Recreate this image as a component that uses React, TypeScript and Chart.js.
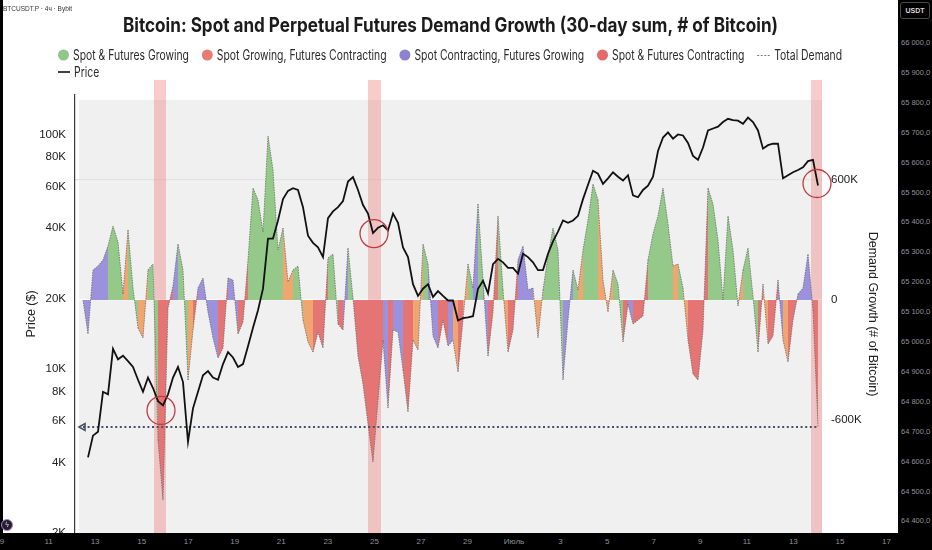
import React, { useEffect, useRef } from "react";
import { Chart, registerables } from "chart.js";

Chart.register(...registerables);

// ---------- DATA ----------
// Price (thousand USD), one sample per period on a shared index axis
const priceK: (number | null)[] = [
  null, 4.2, 5.2, 5.4, 8.0, 7.8, 12.2, 11.0, 11.4, 10.8,
  10.2, 9.0, 8.0, 9.2, 8.3, 7.3, 7.0, 7.8, 9.2, 10.2,
  8.8, 4.9, 6.8, 8.0, 9.4, 9.8, 9.2, 9.0, 10.5, 11.8,
  11.2, 10.2, 10.5, 12.5, 15.0, 17.8, 22, 36, 36, 43,
  53, 57.5, 59, 58, 49, 37, 34.5, 33, 30, 44,
  47, 49, 52, 63, 65.8, 58, 50, 46, 38, 40,
  41, 39, 46, 42, 33, 30, 23, 20.5, 22, 23,
  20.3, 21.5, 20.5, 19.6, 19.6, 16.1, 16.5, 16.6, 16.8, 22,
  23.8, 21, 28, 29.5, 28.5, 27, 27, 25.5, 31, 30,
  28.5, 26.4, 26.4, 31, 35, 38.5, 43, 42, 43, 45,
  53, 61, 70, 68, 61.6, 65, 69, 66, 63.6, 67,
  55, 54, 58, 60.5, 66, 85, 97, 102, 96, 100,
  99, 92, 81, 78, 88, 104, 106, 108, 113, 116.6,
  115, 114.5, 111, 118, 113, 104, 87, 90, 91.3, 91.3,
  65, 67, 69, 70.5, 72.5, 77, 78, 60.6,
];

// Demand growth (thousand BTC, 30-day sum)
const demandK: number[] = [
  0, -170, 150, 170, 200, 270, 370, 290, 30, 350,
  60, -140, -190, 150, 180, -700, -1000, -40, 70, 280,
  150, -400, -150, 60, 110, -60, -190, -290, -240, 110,
  100, -170, -110, 200, 560, 500, 340, 820, 650, 250,
  360, 90, 150, 170, -100, -210, -260, -160, -240, 210,
  230, -120, -150, 260, 10, -280, -420, -620, -810, -500,
  -200, -540, -150, -160, -350, -560, -200, -250, 280, 180,
  -180, -240, -100, -230, -200, -360, -100, 180, 60, 480,
  100, -280, -60, 420, 50, -260, -150, 200, 270, 50,
  60, -190, 50, 220, 360, 250, -400, -100, 150, 50,
  250, 400, 580, 500, 100, -60, 150, 80, -210, -20,
  -120, -100, -80, 200, 330, 420, 560, 380, 170, 180,
  60, -200, -370, -400, -150, 560, 480, 300, 0, 420,
  250, -30, 150, 260, 20, -260, 80, -220, -180, 100,
  -200, -310, -100, 30, 60, 230, -50, -633,
];

// Regime of each period: G = spot & futures growing, O = spot growing / futures contracting,
// P = spot contracting / futures growing, R = spot & futures contracting
const demandCategory: string[] = [
  "P", "P", "P", "P", "P", "G", "G", "G", "O", "G",
  "G", "O", "O", "G", "G", "R", "R", "R", "P", "G",
  "G", "O", "R", "P", "P", "P", "P", "R", "R", "P",
  "P", "R", "R", "G", "G", "G", "G", "G", "G", "G",
  "O", "O", "G", "G", "O", "O", "R", "R", "R", "G",
  "G", "R", "P", "G", "R", "R", "R", "R", "R", "R",
  "P", "R", "P", "P", "R", "R", "O", "O", "G", "P",
  "P", "R", "R", "P", "O", "R", "O", "G", "P", "G",
  "P", "R", "R", "G", "O", "R", "R", "P", "P", "P",
  "O", "O", "G", "G", "G", "G", "P", "P", "G", "O",
  "G", "G", "G", "O", "O", "O", "G", "G", "R", "P",
  "R", "R", "R", "G", "G", "G", "G", "G", "O", "G",
  "O", "R", "R", "R", "R", "G", "G", "G", "G", "G",
  "G", "O", "G", "G", "G", "R", "O", "R", "R", "P",
  "O", "R", "R", "P", "P", "P", "R", "R",
];

const totalDemandLevelK = -635;
const totalDemandSpan: number[] = [0, 147];

const highlightRanges: [number, number][] = [
  [14.2, 16.6],
  [57.0, 59.6],
  [145.6, 148.0],
];

const circleMarks: { x: number; priceK: number }[] = [
  { x: 15.6, priceK: 6.66 },
  { x: 58.2, priceK: 37.8 },
  { x: 146.8, priceK: 61.8 },
];

const priceTicks: number[] = [2000, 4000, 6000, 8000, 10000, 20000, 40000, 60000, 80000, 100000];
const demandTicks: number[] = [-600000, 0, 600000];

const tvDateLabels: string[] = ["9", "11", "13", "15", "17", "19", "21", "23", "25", "27", "29", "Июль", "3", "5", "7", "9", "11", "13", "15", "17"];
const tvPriceLabels: string[] = [
  "66 000,0", "65 900,0", "65 800,0", "65 700,0", "65 600,0", "65 500,0", "65 400,0", "65 300,0", "65 200,0",
  "65 100,0", "65 000,0", "64 900,0", "64 800,0", "64 700,0", "64 600,0", "64 500,0", "64 400,0",
];

const TITLE = "Bitcoin: Spot and Perpetual Futures Demand Growth (30-day sum, # of Bitcoin)";

const catColors: Record<string, string> = {
  G: "#94c98a",
  O: "#f1a56f",
  P: "#9b91dc",
  R: "#e57474",
};

type LegendItem = { label: string; kind: "dot" | "dash" | "line"; color: string };
const legendRow1: LegendItem[] = [
  { label: "Spot & Futures Growing", kind: "dot", color: "#8fc68a" },
  { label: "Spot Growing, Futures Contracting", kind: "dot", color: "#e87c72" },
  { label: "Spot Contracting, Futures Growing", kind: "dot", color: "#8c82cf" },
  { label: "Spot & Futures Contracting", kind: "dot", color: "#e26a6a" },
  { label: "Total Demand", kind: "dash", color: "#7a7a7a" },
];
const legendRow2: LegendItem[] = [{ label: "Price", kind: "line", color: "#111111" }];

const FONT = "'Liberation Sans', Arial, sans-serif";

function fmtK(v: number): string {
  if (v === 0) return "0";
  return `${v < 0 ? "-" : ""}${Math.round(Math.abs(v) / 1000)}K`;
}

const plotBgPlugin = {
  id: "plotBg",
  beforeDraw(chart: any) {
    const { ctx, chartArea: a } = chart;
    ctx.save();
    ctx.fillStyle = "#f0f0f0";
    ctx.fillRect(a.left + 4, a.top + 5, a.right - a.left - 4, a.bottom - a.top - 5);
    ctx.restore();
  },
};

const bandsPlugin = {
  id: "bands",
  beforeDatasetsDraw(chart: any) {
    const { ctx, chartArea: a, scales } = chart;
    ctx.save();
    ctx.fillStyle = "rgba(240,128,128,0.4)";
    for (const [s, e] of highlightRanges) {
      const x0 = scales.x.getPixelForValue(s);
      const x1 = Math.min(scales.x.getPixelForValue(e), a.right);
      ctx.fillRect(x0, a.top - 15, x1 - x0, a.bottom - a.top + 15);
    }
    ctx.restore();
  },
  afterDatasetsDraw(chart: any) {
    const { ctx, scales } = chart;
    ctx.save();
    ctx.strokeStyle = "#c0393b";
    ctx.lineWidth = 1.3;
    for (const m of circleMarks) {
      const cx = scales.x.getPixelForValue(m.x);
      const cy = scales.yPrice.getPixelForValue(m.priceK * 1000);
      ctx.beginPath();
      ctx.arc(cx, cy, 14, 0, Math.PI * 2);
      ctx.stroke();
    }
    ctx.restore();
  },
};

const headerPlugin = {
  id: "header",
  afterDraw(chart: any) {
    const { ctx } = chart;
    ctx.save();
    // title
    ctx.font = "bold 20px Inter, 'Liberation Sans', sans-serif";
    const tw = ctx.measureText(TITLE).width;
    ctx.translate(450.5, 26);
    ctx.scale(655 / tw, 1);
    ctx.textAlign = "center";
    ctx.textBaseline = "middle";
    ctx.fillStyle = "#1b1b1b";
    ctx.fillText(TITLE, 0, 0);
    ctx.restore();

    // legend
    ctx.save();
    ctx.font = "14px Inter, 'Liberation Sans', sans-serif";
    const sx = 116 / ctx.measureText(legendRow1[0].label).width;
    const drawRow = (items: LegendItem[], y: number) => {
      let x = 58;
      for (const it of items) {
        if (it.kind === "dot") {
          ctx.fillStyle = it.color;
          ctx.beginPath();
          ctx.arc(x + 5.5, y, 5.5, 0, Math.PI * 2);
          ctx.fill();
          x += 15;
        } else if (it.kind === "dash") {
          ctx.strokeStyle = it.color;
          ctx.lineWidth = 1;
          ctx.setLineDash([2, 1.5]);
          ctx.beginPath();
          ctx.moveTo(x, y + 0.5);
          ctx.lineTo(x + 14, y + 0.5);
          ctx.stroke();
          ctx.setLineDash([]);
          x += 17;
        } else {
          ctx.strokeStyle = it.color;
          ctx.lineWidth = 1.6;
          ctx.beginPath();
          ctx.moveTo(x, y);
          ctx.lineTo(x + 12, y);
          ctx.stroke();
          x += 16;
        }
        const w = ctx.measureText(it.label).width * sx;
        ctx.save();
        ctx.translate(x, y + 0.5);
        ctx.scale(sx, 1);
        ctx.fillStyle = "#2a2a2a";
        ctx.textAlign = "left";
        ctx.textBaseline = "middle";
        ctx.fillText(it.label, 0, 0);
        ctx.restore();
        x += w + 12.8;
      }
    };
    drawRow(legendRow1, 55);
    drawRow(legendRow2, 72);
    ctx.restore();
  },
};

export default function App() {
  const ref = useRef<HTMLCanvasElement | null>(null);

  useEffect(() => {
    if (!ref.current) return;
    const priceData = priceK.map((p, i) => ({ x: i, y: p === null ? null : p * 1000 }));
    const demandData = demandK.map((d, i) => ({ x: i, y: d * 1000 }));
    const totalData = totalDemandSpan.map((x) => ({ x, y: totalDemandLevelK * 1000 }));

    const chart = new Chart(ref.current, {
      type: "line",
      data: {
        datasets: [
          {
            label: "Price",
            data: priceData as any,
            yAxisID: "yPrice",
            borderColor: "#111111",
            borderWidth: 1.8,
            pointRadius: 0,
            tension: 0,
            spanGaps: false,
            fill: false,
          },
          {
            label: "Total Demand",
            data: totalData as any,
            yAxisID: "yDemand",
            borderColor: "#4a4f66",
            borderWidth: 2,
            borderDash: [2, 2.6],
            pointRadius: [4, 0],
            pointStyle: "triangle",
            rotation: 270,
            pointBorderColor: "#4a4f66",
            pointBackgroundColor: "rgba(0,0,0,0)",
            pointBorderWidth: 1.6,
            fill: false,
          },
          {
            label: "Demand Growth",
            data: demandData as any,
            yAxisID: "yDemand",
            borderColor: "rgba(100,100,100,0.75)",
            borderWidth: 1,
            borderDash: [1.5, 1],
            pointRadius: 0,
            tension: 0,
            fill: "origin",
            backgroundColor: catColors.G,
            segment: {
              backgroundColor: (c: any) => catColors[demandCategory[c.p0DataIndex]] || catColors.G,
            },
          } as any,
        ],
      },
      options: {
        responsive: false,
        animation: false,
        layout: { padding: { top: 95, bottom: 27, left: 0, right: 0 } },
        plugins: {
          legend: { display: false },
          tooltip: { enabled: false },
          title: { display: false },
        },
        scales: {
          x: { type: "linear", min: -1.6, max: 147.8, display: false },
          yPrice: {
            type: "logarithmic",
            position: "left",
            min: 2000,
            max: 147300,
            afterBuildTicks: (s: any) => {
              s.ticks = priceTicks.map((v) => ({ value: v }));
            },
            afterFit: (s: any) => {
              s.width = 75;
            },
            ticks: {
              autoSkip: false,
              padding: 9,
              color: "#222",
              font: { size: 11.5, family: FONT },
              callback: (v: any) => fmtK(Number(v)),
            },
            grid: { display: false, drawTicks: false },
            border: { display: true, color: "#3a3a3a", width: 1.2 },
            title: {
              display: true,
              text: "Price ($)",
              color: "#222",
              font: { size: 12.5, family: FONT },
              padding: { top: 24, bottom: 0 },
            },
          },
          yDemand: {
            type: "linear",
            position: "right",
            min: -1165000,
            max: 1025000,
            afterBuildTicks: (s: any) => {
              s.ticks = demandTicks.map((v) => ({ value: v }));
            },
            afterFit: (s: any) => {
              s.width = 76;
            },
            ticks: {
              autoSkip: false,
              padding: 9,
              color: "#222",
              font: { size: 11.5, family: FONT },
              callback: (v: any) => fmtK(Number(v)),
            },
            grid: {
              drawTicks: false,
              lineWidth: 1.2,
              color: (c: any) =>
                c.tick && c.tick.value === 0 ? "#ffffff" : c.tick && c.tick.value === 600000 ? "#e3e3e3" : "rgba(0,0,0,0)",
            },
            border: { display: false },
            title: {
              display: true,
              text: "Demand Growth (# of Bitcoin)",
              color: "#222",
              font: { size: 12.5, family: FONT },
              padding: { top: 18, bottom: 0 },
            },
          },
        },
      } as any,
      plugins: [plotBgPlugin, bandsPlugin, headerPlugin],
    });
    return () => chart.destroy();
  }, []);

  const tvText: React.CSSProperties = {
    position: "absolute",
    fontFamily: FONT,
    color: "#8f929b",
    fontSize: 7.5,
    whiteSpace: "nowrap",
    lineHeight: "10px",
  };

  return (
    <div
      style={{
        position: "fixed",
        left: 0,
        top: 0,
        width: 932,
        height: 550,
        background: "#ffffff",
        overflow: "hidden",
      }}
    >
      <canvas ref={ref} width={898} height={560} style={{ position: "absolute", left: 0, top: 0, width: 898, height: 560 }} />
      <div style={{ position: "absolute", left: 3, top: 5, fontFamily: FONT, fontSize: 6.5, color: "#333", whiteSpace: "nowrap" }}>
        BTCUSDT.P · 4ч · Bybit
      </div>
      <div style={{ position: "absolute", left: 0, top: 0, width: 3, height: 550, background: "#000" }} />
      <div style={{ position: "absolute", left: 898, top: 0, width: 34, height: 550, background: "#000" }} />
      <div style={{ position: "absolute", left: 0, top: 533, width: 932, height: 17, background: "#000" }} />
      <div
        style={{
          position: "absolute",
          left: 900,
          top: 2,
          width: 28,
          height: 15,
          border: "1px solid #4a4a4a",
          borderRadius: 3,
          color: "#d8d8d8",
          fontFamily: FONT,
          fontSize: 7,
          fontWeight: "bold",
          lineHeight: "15px",
          textAlign: "center",
        }}
      >
        USDT
      </div>
      {tvPriceLabels.map((t, i) => (
        <div key={"p" + i} style={{ ...tvText, left: 901, top: 38 + i * 29.9 }}>
          {t}
        </div>
      ))}
      {tvDateLabels.map((t, i) => (
        <div
          key={"d" + i}
          style={{ ...tvText, left: 2 + i * 46.55 - 15, width: 30, textAlign: "center", top: 537, fontSize: 8 }}
        >
          {t}
        </div>
      ))}
      <div
        style={{
          position: "absolute",
          left: 1,
          top: 519,
          width: 10,
          height: 10,
          borderRadius: "50%",
          background: "#22202c",
          border: "1px solid #b47ad6",
          color: "#e8d8f4",
          fontSize: 7,
          lineHeight: "10px",
          textAlign: "center",
          fontFamily: "'DejaVu Sans', sans-serif",
        }}
      >
        ϟ
      </div>
    </div>
  );
}
